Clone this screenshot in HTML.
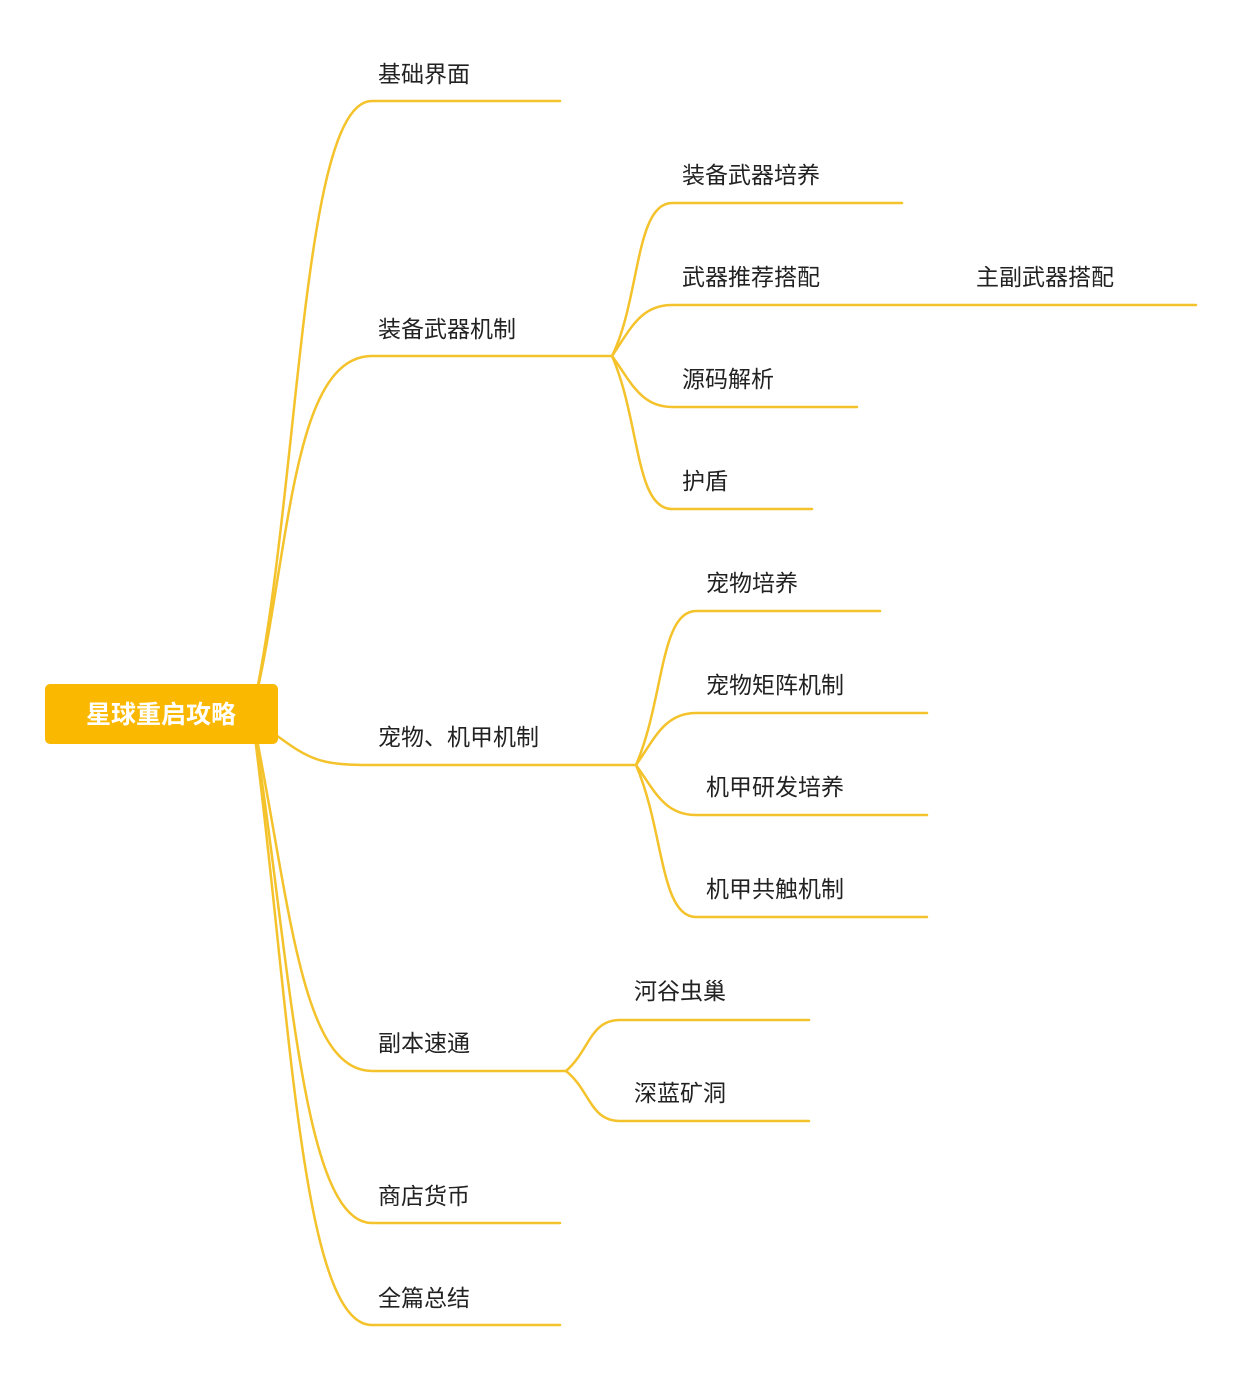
<!DOCTYPE html>
<html><head><meta charset="utf-8"><style>
html,body{margin:0;padding:0;background:#fff;}
svg text{font-family:"Liberation Sans","Noto Sans CJK SC",sans-serif;font-size:23px;fill:#222;}
</style></head><body>
<svg width="1243" height="1372" viewBox="0 0 1243 1372" xmlns="http://www.w3.org/2000/svg">
<g fill="none" stroke="#F4C22B" stroke-width="2.5" stroke-linecap="round">
<path d="M252,714 C300,500 300,101 372,101 L560,101"/>
<path d="M252,714 C290,560 290,356 372,356 L612,356"/>
<path d="M276,735 C310,760 320,765 372,765 L636,765"/>
<path d="M252,714 C290,900 300,1071 372,1071 L566,1071"/>
<path d="M252,714 C290,950 300,1223 372,1223 L560,1223"/>
<path d="M252,714 C290,1000 300,1325 372,1325 L560,1325"/>
<path d="M612,356 C640,300 635,203 672,203 L902,203"/>
<path d="M612,356 C630,330 640,305 672,305 L1196,305"/>
<path d="M612,356 C630,380 640,407 672,407 L857,407"/>
<path d="M612,356 C640,420 635,509 672,509 L812,509"/>
<path d="M636,765 C664,700 660,611 696,611 L880,611"/>
<path d="M636,765 C654,740 664,713 696,713 L927,713"/>
<path d="M636,765 C654,790 664,815 696,815 L927,815"/>
<path d="M636,765 C664,830 660,917 696,917 L927,917"/>
<path d="M566,1071 C590,1050 590,1020 620,1020 L809,1020"/>
<path d="M566,1071 C590,1090 590,1121 620,1121 L809,1121"/>
</g>
<rect x="45" y="684" width="233" height="60" rx="5" fill="#FBB800"/>
<text x="161" y="723" text-anchor="middle" style="fill:#fff;font-size:25px;font-weight:bold;">星球重启攻略</text>
<text x="378" y="82">基础界面</text>
<text x="378" y="337">装备武器机制</text>
<text x="378" y="745">宠物、机甲机制</text>
<text x="378" y="1051">副本速通</text>
<text x="378" y="1204">商店货币</text>
<text x="378" y="1306">全篇总结</text>
<text x="682" y="183">装备武器培养</text>
<text x="682" y="285">武器推荐搭配</text>
<text x="976" y="285">主副武器搭配</text>
<text x="682" y="387">源码解析</text>
<text x="682" y="489">护盾</text>
<text x="706" y="591">宠物培养</text>
<text x="706" y="693">宠物矩阵机制</text>
<text x="706" y="795">机甲研发培养</text>
<text x="706" y="897">机甲共触机制</text>
<text x="634" y="999">河谷虫巢</text>
<text x="634" y="1101">深蓝矿洞</text>
</svg>
</body></html>
